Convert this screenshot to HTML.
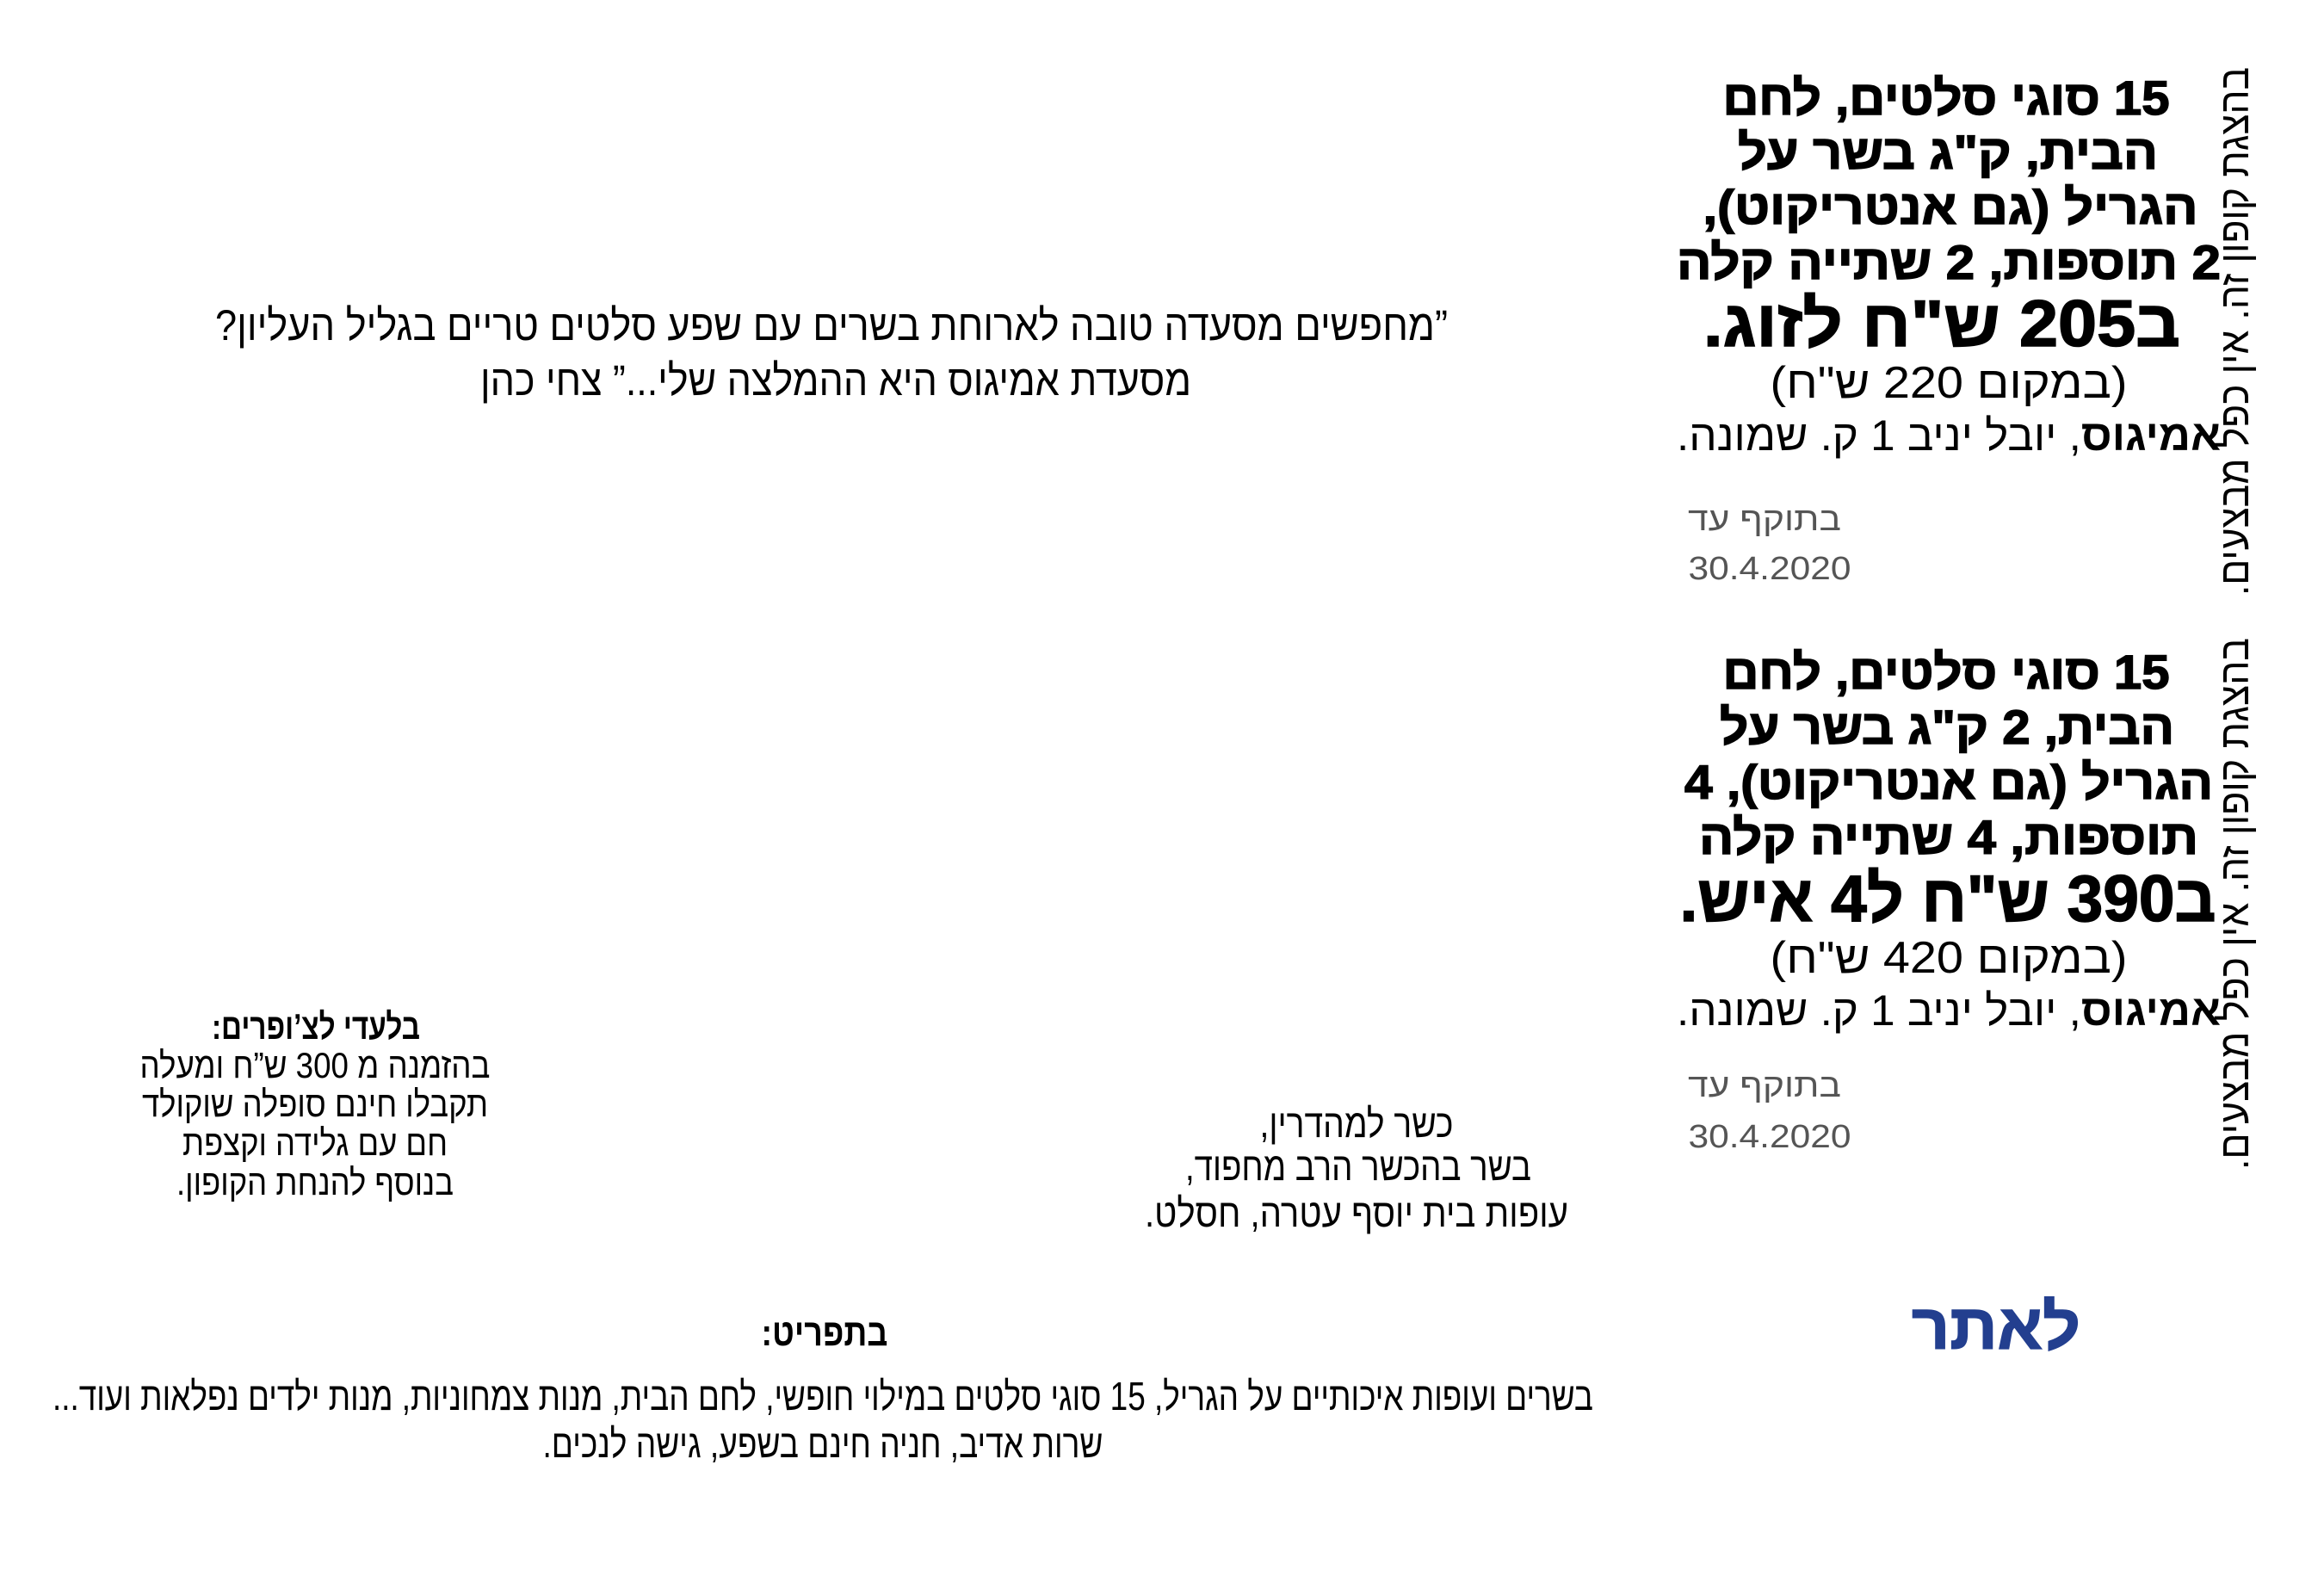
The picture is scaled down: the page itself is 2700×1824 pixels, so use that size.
<!DOCTYPE html>
<html><head><meta charset="utf-8"><style>
html,body{margin:0;padding:0;background:#fff;}
svg{display:block;}
text{font-family:"Liberation Sans","DejaVu Sans",sans-serif;direction:rtl;unicode-bidi:embed;}
.b{font-weight:bold;}
.h{font-weight:bold;stroke:#000;stroke-width:1.5;}
</style></head><body>
<svg width="2700" height="1824" viewBox="0 0 2700 1824" xmlns="http://www.w3.org/2000/svg">
<rect width="2700" height="1824" fill="#fff"/>
<g text-anchor="middle" fill="#000">
<!-- quote -->
<text x="966" y="395" font-size="50" textLength="1432" lengthAdjust="spacingAndGlyphs">”מחפשים מסעדה טובה לארוחת בשרים עם שפע סלטים טריים בגליל העליון?</text>
<text x="971" y="459" font-size="50" textLength="826" lengthAdjust="spacingAndGlyphs">מסעדת אמיגוס היא ההמלצה שלי...” צחי כהן</text>

<!-- block 1 -->
<g transform="translate(-12,0)">
<text class="h" x="2273" y="133" font-size="56" textLength="519" lengthAdjust="spacingAndGlyphs">15 סוגי סלטים, לחם</text>
<text class="h" x="2275" y="196" font-size="56" textLength="488" lengthAdjust="spacingAndGlyphs">הבית, ק"ג בשר על</text>
<text class="h" x="2278" y="260" font-size="56" textLength="575" lengthAdjust="spacingAndGlyphs">הגריל (גם אנטריקוט),</text>
<text class="h" x="2276" y="324" font-size="56" textLength="632" lengthAdjust="spacingAndGlyphs">2 תוספות, 2 שתייה קלה</text>
<text class="h" x="2268" y="402" font-size="76" textLength="554" lengthAdjust="spacingAndGlyphs">ב205 ש"ח לזוג.</text>
<text x="2276" y="462" font-size="52" textLength="415" lengthAdjust="spacingAndGlyphs">(במקום 220 ש"ח)</text>
<text x="2276" y="523" font-size="50" textLength="632" lengthAdjust="spacingAndGlyphs"><tspan font-weight="bold">אמיגוס</tspan>, יובל יניב 1 ק. שמונה.</text>
<text x="2062" y="616" font-size="38" fill="#555" textLength="178" lengthAdjust="spacingAndGlyphs">בתוקף עד</text>
<text x="2068" y="673" font-size="38" fill="#555" textLength="189" lengthAdjust="spacingAndGlyphs" style="direction:ltr">30.4.2020</text>

<!-- block 2 -->
<text class="h" x="2273" y="800" font-size="56" textLength="519" lengthAdjust="spacingAndGlyphs">15 סוגי סלטים, לחם</text>
<text class="h" x="2274" y="864" font-size="56" textLength="528" lengthAdjust="spacingAndGlyphs">הבית, 2 ק"ג בשר על</text>
<text class="h" x="2276" y="928" font-size="56" textLength="614" lengthAdjust="spacingAndGlyphs">הגריל (גם אנטריקוט), 4</text>
<text class="h" x="2276" y="992" font-size="56" textLength="580" lengthAdjust="spacingAndGlyphs">תוספות, 4 שתייה קלה</text>
<text class="h" x="2275" y="1070" font-size="76" textLength="623" lengthAdjust="spacingAndGlyphs">ב390 ש"ח ל4 איש.</text>
<text x="2276" y="1130" font-size="52" textLength="415" lengthAdjust="spacingAndGlyphs">(במקום 420 ש"ח)</text>
<text x="2276" y="1191" font-size="50" textLength="632" lengthAdjust="spacingAndGlyphs"><tspan font-weight="bold">אמיגוס</tspan>, יובל יניב 1 ק. שמונה.</text>
<text x="2062" y="1274" font-size="38" fill="#555" textLength="178" lengthAdjust="spacingAndGlyphs">בתוקף עד</text>
<text x="2068" y="1333" font-size="38" fill="#555" textLength="189" lengthAdjust="spacingAndGlyphs" style="direction:ltr">30.4.2020</text>

<text class="h" x="2331" y="1567" font-size="74" fill="#233f8f" stroke="#233f8f" style="stroke:#233f8f" textLength="196" lengthAdjust="spacingAndGlyphs">לאתר</text>
</g>
<text transform="translate(2612,385) rotate(-90)" x="0" y="0" font-size="48" textLength="614" lengthAdjust="spacingAndGlyphs">בהצגת קופון זה. אין כפל מבצעים.</text>
<text transform="translate(2612,1050) rotate(-90)" x="0" y="0" font-size="48" textLength="618" lengthAdjust="spacingAndGlyphs">בהצגת קופון זה. אין כפל מבצעים.</text>

<!-- left -->
<text class="b" x="367" y="1207" font-size="42" textLength="242" lengthAdjust="spacingAndGlyphs">בלעדי לצ’ופרים:</text>
<text x="366" y="1252" font-size="42" textLength="407" lengthAdjust="spacingAndGlyphs">בהזמנה מ 300 ש”ח ומעלה</text>
<text x="366" y="1297" font-size="42" textLength="402" lengthAdjust="spacingAndGlyphs">תקבלו חינם סופלה שוקולד</text>
<text x="366" y="1342" font-size="42" textLength="308" lengthAdjust="spacingAndGlyphs">חם עם גלידה וקצפת</text>
<text x="366" y="1388" font-size="42" textLength="322" lengthAdjust="spacingAndGlyphs">בנוסף להנחת הקופון.</text>

<!-- middle -->
<text x="1576" y="1321" font-size="46" textLength="225" lengthAdjust="spacingAndGlyphs">כשר למהדרין,</text>
<text x="1578" y="1371" font-size="46" textLength="402" lengthAdjust="spacingAndGlyphs">בשר בהכשר הרב מחפוד,</text>
<text x="1576" y="1425" font-size="46" textLength="492" lengthAdjust="spacingAndGlyphs">עופות בית יוסף עטרה, חסלט.</text>

<!-- menu -->
<text class="b" x="958" y="1563" font-size="44" textLength="147" lengthAdjust="spacingAndGlyphs">בתפריט:</text>
<text x="956" y="1638" font-size="46" textLength="1790" lengthAdjust="spacingAndGlyphs">בשרים ועופות איכותיים על הגריל, 15 סוגי סלטים במילוי חופשי, לחם הבית, מנות צמחוניות, מנות ילדים נפלאות ועוד...</text>
<text x="956" y="1693" font-size="46" textLength="651" lengthAdjust="spacingAndGlyphs">שרות אדיב, חניה חינם בשפע, גישה לנכים.</text>
</g>
</svg>
</body></html>
